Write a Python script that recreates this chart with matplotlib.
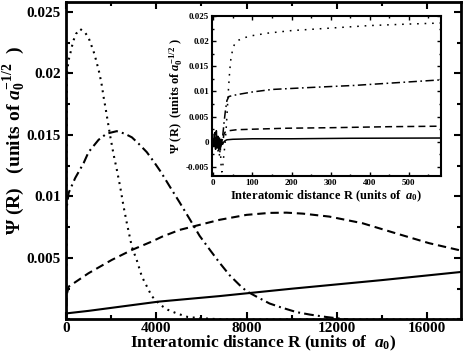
import matplotlib
matplotlib.use("Agg")
import matplotlib.pyplot as plt
from matplotlib.ticker import MultipleLocator

plt.rcParams['font.family'] = ['Liberation Serif', 'DejaVu Serif']
plt.rcParams['font.weight'] = 'bold'
plt.rcParams['mathtext.fontset'] = 'custom'
plt.rcParams['mathtext.rm'] = 'Liberation Serif:bold'
plt.rcParams['mathtext.it'] = 'Liberation Serif:bold:italic'
plt.rcParams['mathtext.bf'] = 'Liberation Serif:bold'
plt.rcParams['lines.scale_dashes'] = False

# ----- main panel data (R in units of a0) -----
R_dot = [0, 40, 120, 190, 265, 340, 440, 630, 850, 1000, 1120, 1220, 1300, 1370,
         1445, 1515, 1590, 1665, 1770, 1860, 1960, 2030, 2110, 2250, 2400, 2550,
         2700, 2920, 3140, 3360, 3580, 3800, 4170, 4500, 4900, 5400, 6000, 7000, 17500]
psi_dot = [0, .0200, .0211, .0216, .0222, .0227, .0232, .0236, .0233, .0229, .0223,
           .0218, .0213, .0208, .0203, .0197, .0190, .0181, .0170, .0160, .0149,
           .0142, .0134, .0122, .0108, .0092, .0078, .0059, .0048, .0035, .0027,
           .0019, .0012, .0008, .0005, .0002, .0001, 0, 0]

R_dd = [0, 40, 120, 410, 780, 1000, 1445, 1800, 2250, 2600, 2920, 3210, 3580, 3900,
        4200, 4600, 5040, 5500, 5920, 6400, 6810, 7250, 7690, 8000, 8500, 9020, 9500,
        10210, 10800, 11540, 12000, 12500]
psi_dd = [0, .0092, .0103, .0115, .0127, .0136, .0146, .0151, .0153, .0151, .0148,
          .0143, .0136, .0128, .0120, .0108, .0095, .0081, .0068, .0056, .0046, .0036,
          .0028, .0023, .0018, .0013, .0010, .0006, .0004, .0002, .0001, 0]

R_dash = [0, 30, 120, 1000, 2030, 2920, 3800, 4260, 5040, 6810, 8000, 9020, 9770,
          10500, 11670, 13140, 14620, 16090, 17500]
psi_dash = [0, .0020, .00267, .00376, .00484, .00565, .00633, .00673, .00728, .0081,
            .0085, .00866, .00868, .0086, .00836, .00782, .0070, .0062, .0056]

R_sol = [0, 40, 1000, 4100, 6800, 10000, 14000, 17500]
psi_sol = [0, .0005, .0007, .00145, .0019, .0025, .0032, .00386]

# ----- inset data (short range) -----
r_dot = [0, 2, 4, 6, 8, 10, 12, 14, 16, 18, 20, 22, 24, 26, 28, 30, 33, 36, 39, 42,
         45, 50, 55, 65, 80, 100, 140, 200, 280, 400, 500, 580]
s_dot = [0, .0015, -.0012, .0020, -.0018, .0012, -.0022, .0008, -.0030, -.0010,
         -.0045, -.0060, -.0052, -.0035, -.0020, -.0005, .0025, .0065, .0105, .0140,
         .0164, .0185, .0195, .0202, .0207, .0211, .0216, .0221, .0225, .0231, .0234, .0236]

r_dd = [0, 2, 4, 6, 8, 10, 12, 14, 16, 18, 20, 22, 24, 26, 28, 31, 35, 40, 50, 70,
        100, 150, 250, 360, 460, 580]
s_dd = [0, -.0010, .0018, -.0015, .0022, -.0010, .0015, -.0020, .0010, -.0015, .0005,
        -.0005, .0010, .0025, .0041, .0061, .0082, .0090, .0092, .0095, .0099, .0104,
        .0108, .0112, .0117, .0123]

r_dash = [0, 3, 6, 9, 12, 15, 18, 21, 24, 27, 30, 40, 60, 100, 190, 300, 450, 580]
s_dash = [0, .0012, -.0010, .0015, -.0012, .0010, -.0015, .0005, -.0005, .0014, .0019,
          .0022, .0024, .0025, .0027, .0028, .0030, .0031]

r_sol = [0, 3, 6, 9, 12, 15, 18, 21, 25, 30, 35, 50, 100, 200, 350, 580]
s_sol = [0, .0008, -.0008, .0010, -.0012, .0006, -.0010, -.0006, -.0002, .0002, .0004,
         .0005, .0006, .0006, .0007, .00075]

fig = plt.figure(figsize=(4.63, 3.54), dpi=100)
ax = fig.add_axes([0.1425, 0.0975, 0.853, 0.897])

lw = 1.5
ax.plot(R_sol, psi_sol, color='black', lw=lw)
ax.plot(R_dash, psi_dash, color='black', lw=lw, dashes=(6, 3.5))
ax.plot(R_dd, psi_dd, color='black', lw=lw, dashes=(7, 3, 1.4, 3))
ax.plot(R_dot, psi_dot, color='black', lw=lw, dashes=(1.4, 3.4))

ax.set_xlim(0, 17500)
ax.set_ylim(0, 0.0258)
ax.set_xticks([0, 4000, 8000, 12000, 16000])
ax.set_yticks([0.005, 0.01, 0.015, 0.02, 0.025])
ax.set_yticklabels(['0.005', '0.01', '0.015', '0.02', '0.025'])
ax.xaxis.set_minor_locator(MultipleLocator(2000))
ax.yaxis.set_minor_locator(MultipleLocator(0.0025))
ax.tick_params(which='both', direction='in', top=True, right=True, width=1.5,
               labelsize=11)
ax.tick_params(which='major', length=5)
ax.tick_params(which='minor', length=3)
ax.tick_params(axis='x', pad=2)
for sp in ax.spines.values():
    sp.set_linewidth(2)
ax.set_xlabel(r'Interatomic distance R (units of  $a_0$)', fontsize=12.5,
              fontweight='bold', labelpad=-1)
ax.set_ylabel(r'$\Psi$ (R)   (units of $a_0^{-1/2}$  )', fontsize=14,
              fontweight='bold')
ax.yaxis.set_label_coords(-0.099, 0.565)

# ----- inset -----
ins = fig.add_axes([0.458, 0.5028, 0.4945, 0.452])
lw2 = 1.1
ins.plot(r_sol, s_sol, color='black', lw=lw2)
ins.plot(r_dash, s_dash, color='black', lw=lw2, dashes=(5, 3))
ins.plot(r_dd, s_dd, color='black', lw=lw2, dashes=(6, 2.5, 1.2, 2.5))
ins.plot(r_dot, s_dot, color='black', lw=lw2, dashes=(1.2, 4.2))

ins.set_xlim(-3, 582)
ins.set_ylim(-0.0068, 0.025)
ins.set_xticks([0, 100, 200, 300, 400, 500])
ins.set_yticks([-0.005, 0, 0.005, 0.01, 0.015, 0.02, 0.025])
ins.set_yticklabels(['-0.005', '0', '0.005', '0.01', '0.015', '0.02', '0.025'])
ins.xaxis.set_minor_locator(MultipleLocator(50))
ins.yaxis.set_minor_locator(MultipleLocator(0.0025))
ins.tick_params(which='both', direction='in', top=True, right=True, width=1,
                labelsize=6.5, pad=2)
ins.tick_params(which='major', length=3)
ins.tick_params(which='minor', length=1.5)
for sp in ins.spines.values():
    sp.set_linewidth(1.5)
ins.set_xlabel(r'Interatomic distance R (units of  $a_0$)', fontsize=9,
               fontweight='bold', labelpad=1)
ins.set_ylabel(r'$\Psi$ (R)  (units of $a_0^{-1/2}$ )', fontsize=9,
               fontweight='bold', labelpad=1)

fig.savefig('out.png', dpi=100)
